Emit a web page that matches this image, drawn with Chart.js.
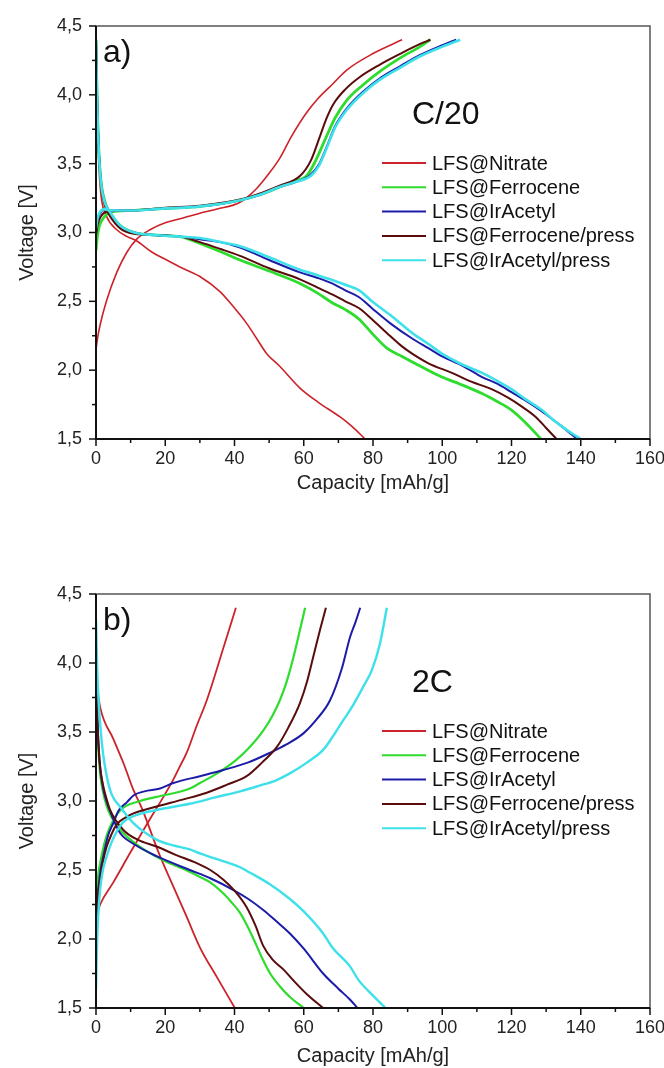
<!DOCTYPE html>
<html>
<head>
<meta charset="utf-8">
<title>LFS charge/discharge curves</title>
<script src="https://cdn.jsdelivr.net/npm/chart.js@4.4.1/dist/chart.umd.min.js"></script>
<style>
  html, body { margin: 0; padding: 0; background: #fff; }
  .panel { position: absolute; left: 0; width: 664px; height: 534px; }
  #panelA { top: 0; }
  #panelB { top: 534px; }
</style>
</head>
<body>
<div class="panel" id="panelA"><canvas id="chartA" width="664" height="534"></canvas></div>
<div class="panel" id="panelB"><canvas id="chartB" width="664" height="534"></canvas></div>
<script>
const seriesNames = ["LFS@Nitrate", "LFS@Ferrocene", "LFS@IrAcetyl", "LFS@Ferrocene/press", "LFS@IrAcetyl/press"];
const capacityTicks = [0, 20, 40, 60, 80, 100, 120, 140, 160];
const voltageTicks = [1.5, 2.0, 2.5, 3.0, 3.5, 4.0, 4.5];

// C/20 — [capacity mAh/g, voltage V]
const c20NitrateCharge = [[0,2.15],[0.5,2.24],[1.2,2.33],[3,2.5],[6,2.71],[9,2.86],[11.7,2.95],[15.6,3.02],[20,3.07],[24.3,3.1],[30,3.14],[35,3.17],[41.6,3.22],[46.4,3.32],[50,3.43],[53.1,3.54],[56.5,3.7],[60.8,3.87],[64,3.97],[68,4.07],[72.4,4.18],[80,4.3],[88.4,4.4]];
const c20NitrateDischarge = [[0,4.4],[0.3,3.9],[0.8,3.5],[1.5,3.26],[3,3.12],[6,3.02],[9,2.97],[11.7,2.94],[16,2.86],[20.4,2.8],[25,2.74],[30,2.68],[35.8,2.57],[39.7,2.46],[43.5,2.34],[46.4,2.23],[49.3,2.12],[53,2.03],[58.9,1.87],[64,1.77],[70.5,1.66],[74,1.59],[77.7,1.5]];
const c20FerroceneCharge = [[0,2.87],[0.4,2.97],[1,3.05],[2,3.1],[3,3.13],[4.5,3.15],[10,3.16],[20,3.175],[30,3.19],[41.6,3.235],[48,3.28],[53,3.33],[57,3.37],[60.8,3.41],[63,3.5],[66.6,3.7],[69,3.83],[72.4,3.96],[77,4.07],[82,4.17],[88,4.27],[93.6,4.35],[96.5,4.4]];
const c20FerroceneDischarge = [[0,4.4],[0.3,4.0],[0.8,3.6],[1.5,3.36],[2.5,3.23],[4,3.14],[7,3.05],[11,3.0],[18,2.98],[24.3,2.97],[30,2.92],[36,2.86],[41.6,2.8],[50,2.72],[58.9,2.63],[64,2.56],[68.2,2.49],[72,2.44],[76,2.37],[80,2.26],[84,2.16],[88.4,2.1],[93.6,2.03],[99.9,1.95],[105,1.9],[111.5,1.83],[116,1.77],[120,1.71],[124,1.62],[128.5,1.5]];
const c20IrAcetylCharge = [[0,3.0],[0.5,3.09],[1.2,3.14],[2.5,3.17],[4,3.16],[10,3.16],[20,3.175],[30,3.19],[41.6,3.235],[48,3.28],[53,3.33],[58,3.37],[62,3.42],[64.5,3.5],[66.6,3.62],[69,3.77],[72.4,3.9],[77,4.02],[82,4.12],[88,4.21],[93.6,4.29],[99,4.35],[104,4.4]];
const c20IrAcetylDischarge = [[0,4.4],[0.3,4.0],[0.8,3.6],[1.5,3.35],[2.5,3.22],[4,3.15],[7,3.05],[11,3.0],[18,2.98],[24.3,2.97],[30,2.95],[36,2.93],[41.6,2.89],[50,2.8],[58.9,2.71],[64,2.67],[68.2,2.63],[72,2.58],[76,2.53],[79.7,2.45],[85,2.34],[91.3,2.23],[96,2.16],[100,2.1],[106,2.03],[111.5,1.95],[116,1.9],[120,1.84],[124,1.78],[128.8,1.7],[132,1.64],[134.6,1.59],[137,1.54],[139,1.5]];
const c20FerrocenePressCharge = [[0,2.98],[0.5,3.06],[1.5,3.12],[3,3.15],[10,3.16],[20,3.18],[30,3.195],[41.6,3.24],[48,3.29],[53,3.34],[58.9,3.41],[62,3.52],[64.7,3.7],[66.6,3.83],[68.5,3.93],[72,4.04],[76.2,4.13],[82,4.22],[88,4.3],[93.6,4.37],[96.6,4.4]];
const c20FerrocenePressDischarge = [[0,4.4],[0.3,4.0],[0.8,3.6],[1.5,3.34],[2.5,3.2],[4,3.12],[7,3.03],[11,2.99],[18,2.98],[24.3,2.97],[30,2.93],[36,2.88],[41.6,2.83],[50,2.74],[58.9,2.66],[64,2.6],[68.2,2.55],[72,2.5],[76,2.45],[79.7,2.37],[84,2.27],[88,2.18],[91.3,2.12],[96,2.05],[102.8,1.98],[108,1.92],[114.4,1.86],[119,1.8],[123,1.735],[127,1.66],[130,1.58],[133,1.5]];
const c20IrAcetylPressCharge = [[0,3.03],[0.5,3.11],[1.2,3.15],[2.5,3.17],[4,3.16],[10,3.16],[20,3.175],[30,3.19],[41.6,3.235],[48,3.28],[53,3.33],[58,3.37],[62,3.41],[64.5,3.49],[66.6,3.61],[69,3.76],[72.4,3.89],[77,4.01],[82,4.11],[88,4.2],[93.6,4.28],[100,4.35],[105.2,4.4]];
const c20IrAcetylPressDischarge = [[0,4.4],[0.3,4.0],[0.8,3.6],[1.5,3.35],[2.5,3.22],[4,3.15],[7,3.05],[11,3.0],[18,2.98],[24.3,2.97],[30,2.96],[36,2.93],[41.6,2.9],[50,2.82],[58.9,2.73],[64,2.69],[68.2,2.655],[72,2.62],[76,2.58],[79.7,2.5],[85,2.4],[91.3,2.27],[96,2.19],[99.9,2.12],[105,2.05],[111.5,1.98],[116,1.92],[120.1,1.86],[124,1.79],[128.8,1.71],[132,1.64],[134.6,1.59],[137.5,1.54],[140,1.5]];

// 2C — [capacity mAh/g, voltage V]
const r2NitrateCharge = [[0.8,2.22],[1.2,2.25],[5,2.41],[10,2.63],[15.6,2.87],[19,3.01],[22,3.14],[24,3.24],[26.2,3.35],[29,3.54],[32,3.73],[36.8,4.11],[40.4,4.4]];
const r2NitrateDischarge = [[0,4.0],[0.5,3.8],[1.2,3.68],[5,3.45],[8,3.27],[10.8,3.08],[13.2,2.95],[18.5,2.6],[22,2.4],[26.2,2.16],[30,1.94],[35,1.72],[40.1,1.5]];
const r2FerroceneCharge = [[0,1.9],[0.2,2.28],[0.6,2.45],[1.2,2.55],[2.5,2.7],[4,2.81],[6.9,2.93],[12.7,3.0],[17.5,3.03],[27.1,3.09],[30,3.13],[35,3.2],[40.6,3.3],[44,3.38],[48.3,3.51],[51,3.62],[53.1,3.73],[55,3.86],[57,4.04],[59,4.25],[60.4,4.4]];
const r2FerroceneDischarge = [[0,4.0],[0.4,3.55],[1,3.25],[2,3.07],[3,2.97],[4.5,2.88],[7,2.79],[12,2.68],[19.4,2.57],[25,2.51],[30,2.45],[33,2.41],[36.8,2.33],[39,2.27],[41.6,2.19],[44,2.08],[46.4,1.95],[48,1.86],[50.3,1.75],[53,1.66],[56,1.58],[60,1.5]];
const r2IrAcetylCharge = [[0,1.95],[0.3,2.2],[0.7,2.36],[1.2,2.48],[2.1,2.6],[3.5,2.75],[5,2.84],[6.5,2.93],[8.9,2.99],[10.8,3.04],[14,3.07],[18.5,3.09],[22.3,3.13],[30,3.18],[36.8,3.225],[44,3.28],[50.3,3.35],[55,3.41],[59.9,3.49],[64,3.6],[67.6,3.73],[71,3.96],[73.4,4.19],[75,4.3],[76.3,4.4]];
const r2IrAcetylDischarge = [[0,4.05],[0.4,3.6],[1,3.3],[2,3.1],[3,3.0],[4.5,2.9],[6.9,2.77],[10.8,2.69],[17.5,2.6],[27.1,2.5],[33,2.44],[39.7,2.355],[44,2.29],[48.3,2.21],[52,2.13],[56,2.04],[60,1.93],[65.6,1.75],[70,1.64],[73.4,1.56],[75.5,1.5]];
const r2FerrocenePressCharge = [[0,2.05],[0.3,2.25],[1.2,2.43],[2,2.56],[3.1,2.67],[4.5,2.76],[6,2.83],[8.5,2.88],[10.8,2.91],[17.5,2.96],[25,3.01],[32,3.06],[38,3.12],[43.5,3.18],[48,3.28],[52.2,3.39],[55.5,3.53],[58.9,3.71],[61,3.87],[62.8,4.05],[64.8,4.25],[66.4,4.4]];
const r2FerrocenePressDischarge = [[0,4.0],[0.4,3.6],[1,3.3],[2,3.12],[3,3.02],[4,2.94],[7.9,2.79],[12,2.72],[17.5,2.67],[23,2.61],[29.1,2.55],[33,2.5],[36.8,2.43],[40,2.35],[43.5,2.23],[46,2.1],[48.3,1.95],[51,1.85],[54.1,1.78],[57,1.7],[60.9,1.6],[65.6,1.5]];
const r2IrAcetylPressCharge = [[0,1.63],[0.2,1.87],[0.6,2.15],[1.2,2.36],[2,2.5],[3.1,2.6],[4.5,2.7],[6,2.78],[8,2.85],[10.8,2.89],[17.5,2.935],[27.1,2.98],[35,3.03],[41.6,3.07],[47,3.11],[52,3.15],[56,3.2],[61,3.28],[65.6,3.37],[68.2,3.46],[71,3.57],[73.9,3.68],[77,3.82],[79.7,3.95],[82,4.14],[84,4.4]];
const r2IrAcetylPressDischarge = [[0,4.32],[0.3,4.0],[0.8,3.7],[1.2,3.56],[2,3.35],[3.1,3.18],[4.5,3.05],[6.9,2.96],[10.8,2.84],[17.5,2.72],[22,2.68],[27.1,2.65],[30,2.62],[36,2.57],[41.6,2.52],[44.5,2.48],[50,2.4],[56,2.29],[60,2.2],[65.6,2.04],[68.2,1.94],[73.4,1.8],[75.9,1.7],[80,1.59],[83.6,1.5]];

const seriesColors = ["#cc2229", "#2edc2e", "#1c1ca8", "#5a0c0c", "#3ee0ea"];
const FONT = "'Liberation Sans', Arial, sans-serif";

function toPoints(pairs) {
    return pairs.map(([x, y]) => ({ x, y }));
}

function buildDatasets(curves, widths) {
    const datasets = [];
    curves.forEach(([charge, discharge], i) => {
        [charge, discharge].forEach((pairs) => {
            datasets.push({
                label: seriesNames[i],
                data: toPoints(pairs),
                showLine: true,
                borderColor: seriesColors[i],
                borderWidth: widths[i],
                pointRadius: 0,
                cubicInterpolationMode: "monotone",
                order: seriesNames.length - i,
            });
        });
    });
    return datasets;
}

// frame, minor ticks, panel tag, rate and the legend inside the plot
const decorations = {
    id: "decorations",
    afterDraw(chart, args, opts) {
        const { ctx, chartArea: a, scales } = chart;
        ctx.save();
        ctx.strokeStyle = "#555";
        ctx.lineWidth = 1.5;
        ctx.strokeRect(a.left, a.top, a.right - a.left, a.bottom - a.top);
        ctx.strokeStyle = "#111";
        ctx.lineWidth = 2;
        ctx.beginPath();
        ctx.moveTo(a.left, a.top);
        ctx.lineTo(a.left, a.bottom);
        ctx.lineTo(a.right, a.bottom);
        ctx.stroke();

        ctx.lineWidth = 1.5;
        for (let v = 0; v <= 160; v += 10) {
            const px = scales.x.getPixelForValue(v);
            const len = v % 20 === 0 ? 7 : 4;
            ctx.beginPath();
            ctx.moveTo(px, a.bottom);
            ctx.lineTo(px, a.bottom + len);
            ctx.stroke();
        }
        for (let k = 0; k <= 12; k++) {
            const v = 1.5 + k * 0.25;
            const py = scales.y.getPixelForValue(v);
            const len = k % 2 === 0 ? 7 : 4;
            ctx.beginPath();
            ctx.moveTo(a.left, py);
            ctx.lineTo(a.left - len, py);
            ctx.stroke();
        }

        ctx.fillStyle = "#111";
        ctx.textBaseline = "middle";
        ctx.textAlign = "left";
        ctx.font = "32px " + FONT;
        ctx.fillText(opts.panel, a.left + 7, a.top + 27);
        ctx.fillText(opts.rate, a.left + 316, a.top + 89);

        ctx.font = "20px " + FONT;
        seriesNames.forEach((name, i) => {
            const y = a.top + 137 + i * 24.3;
            ctx.strokeStyle = seriesColors[i];
            ctx.lineWidth = 2;
            ctx.beginPath();
            ctx.moveTo(a.left + 286, y);
            ctx.lineTo(a.left + 330, y);
            ctx.stroke();
            ctx.fillStyle = "#111";
            ctx.fillText(name, a.left + 336, y + 1);
        });
        ctx.restore();
    },
};

function makeChart(canvas, curves, widths, panel, rate, padTop, xAxisHeight, titlePad) {
    return new Chart(canvas.getContext("2d"), {
        type: "scatter",
        data: { datasets: buildDatasets(curves, widths) },
        options: {
            responsive: false,
            animation: false,
            layout: { padding: { left: 0, right: 14, top: padTop, bottom: 0 } },
            plugins: {
                legend: { display: false },
                tooltip: { enabled: false },
                decorations: { panel, rate },
            },
            scales: {
                x: {
                    type: "linear",
                    min: capacityTicks[0],
                    max: capacityTicks[capacityTicks.length - 1],
                    afterBuildTicks: (s) => { s.ticks = capacityTicks.map((v) => ({ value: v })); },
                    ticks: { padding: 9, color: "#222", font: { family: FONT, size: 18 }, maxRotation: 0, autoSkip: false },
                    grid: { display: false, drawTicks: false },
                    border: { display: false },
                    title: { display: true, text: "Capacity [mAh/g]", color: "#222", font: { family: FONT, size: 20 }, padding: { top: 0, bottom: titlePad } },
                    afterFit: (s) => { s.height = xAxisHeight; s.paddingLeft = 0; s.paddingRight = 0; },
                },
                y: {
                    type: "linear",
                    min: voltageTicks[0],
                    max: voltageTicks[voltageTicks.length - 1],
                    afterBuildTicks: (s) => { s.ticks = voltageTicks.map((v) => ({ value: v })); },
                    ticks: { padding: 14, color: "#222", font: { family: FONT, size: 18 }, callback: (v) => v.toFixed(1).replace(".", ",") },
                    grid: { display: false, drawTicks: false },
                    border: { display: false },
                    title: { display: true, text: "Voltage [V]", color: "#222", font: { family: FONT, size: 20 }, padding: { top: 15, bottom: 0 } },
                    afterFit: (s) => { s.width = 96; },
                },
            },
        },
        plugins: [decorations],
    });
}

makeChart(
    document.getElementById("chartA"),
    [
        [c20NitrateCharge, c20NitrateDischarge],
        [c20FerroceneCharge, c20FerroceneDischarge],
        [c20IrAcetylCharge, c20IrAcetylDischarge],
        [c20FerrocenePressCharge, c20FerrocenePressDischarge],
        [c20IrAcetylPressCharge, c20IrAcetylPressDischarge],
    ],
    [1.6, 2.8, 2, 2, 2.6],
    "a)", "C/20", 26, 95, 39
);

makeChart(
    document.getElementById("chartB"),
    [
        [r2NitrateCharge, r2NitrateDischarge],
        [r2FerroceneCharge, r2FerroceneDischarge],
        [r2IrAcetylCharge, r2IrAcetylDischarge],
        [r2FerrocenePressCharge, r2FerrocenePressDischarge],
        [r2IrAcetylPressCharge, r2IrAcetylPressDischarge],
    ],
    [1.8, 2.2, 2, 2, 2.4],
    "b)", "2C", 60, 60, 0
);
</script>
</body>
</html>
